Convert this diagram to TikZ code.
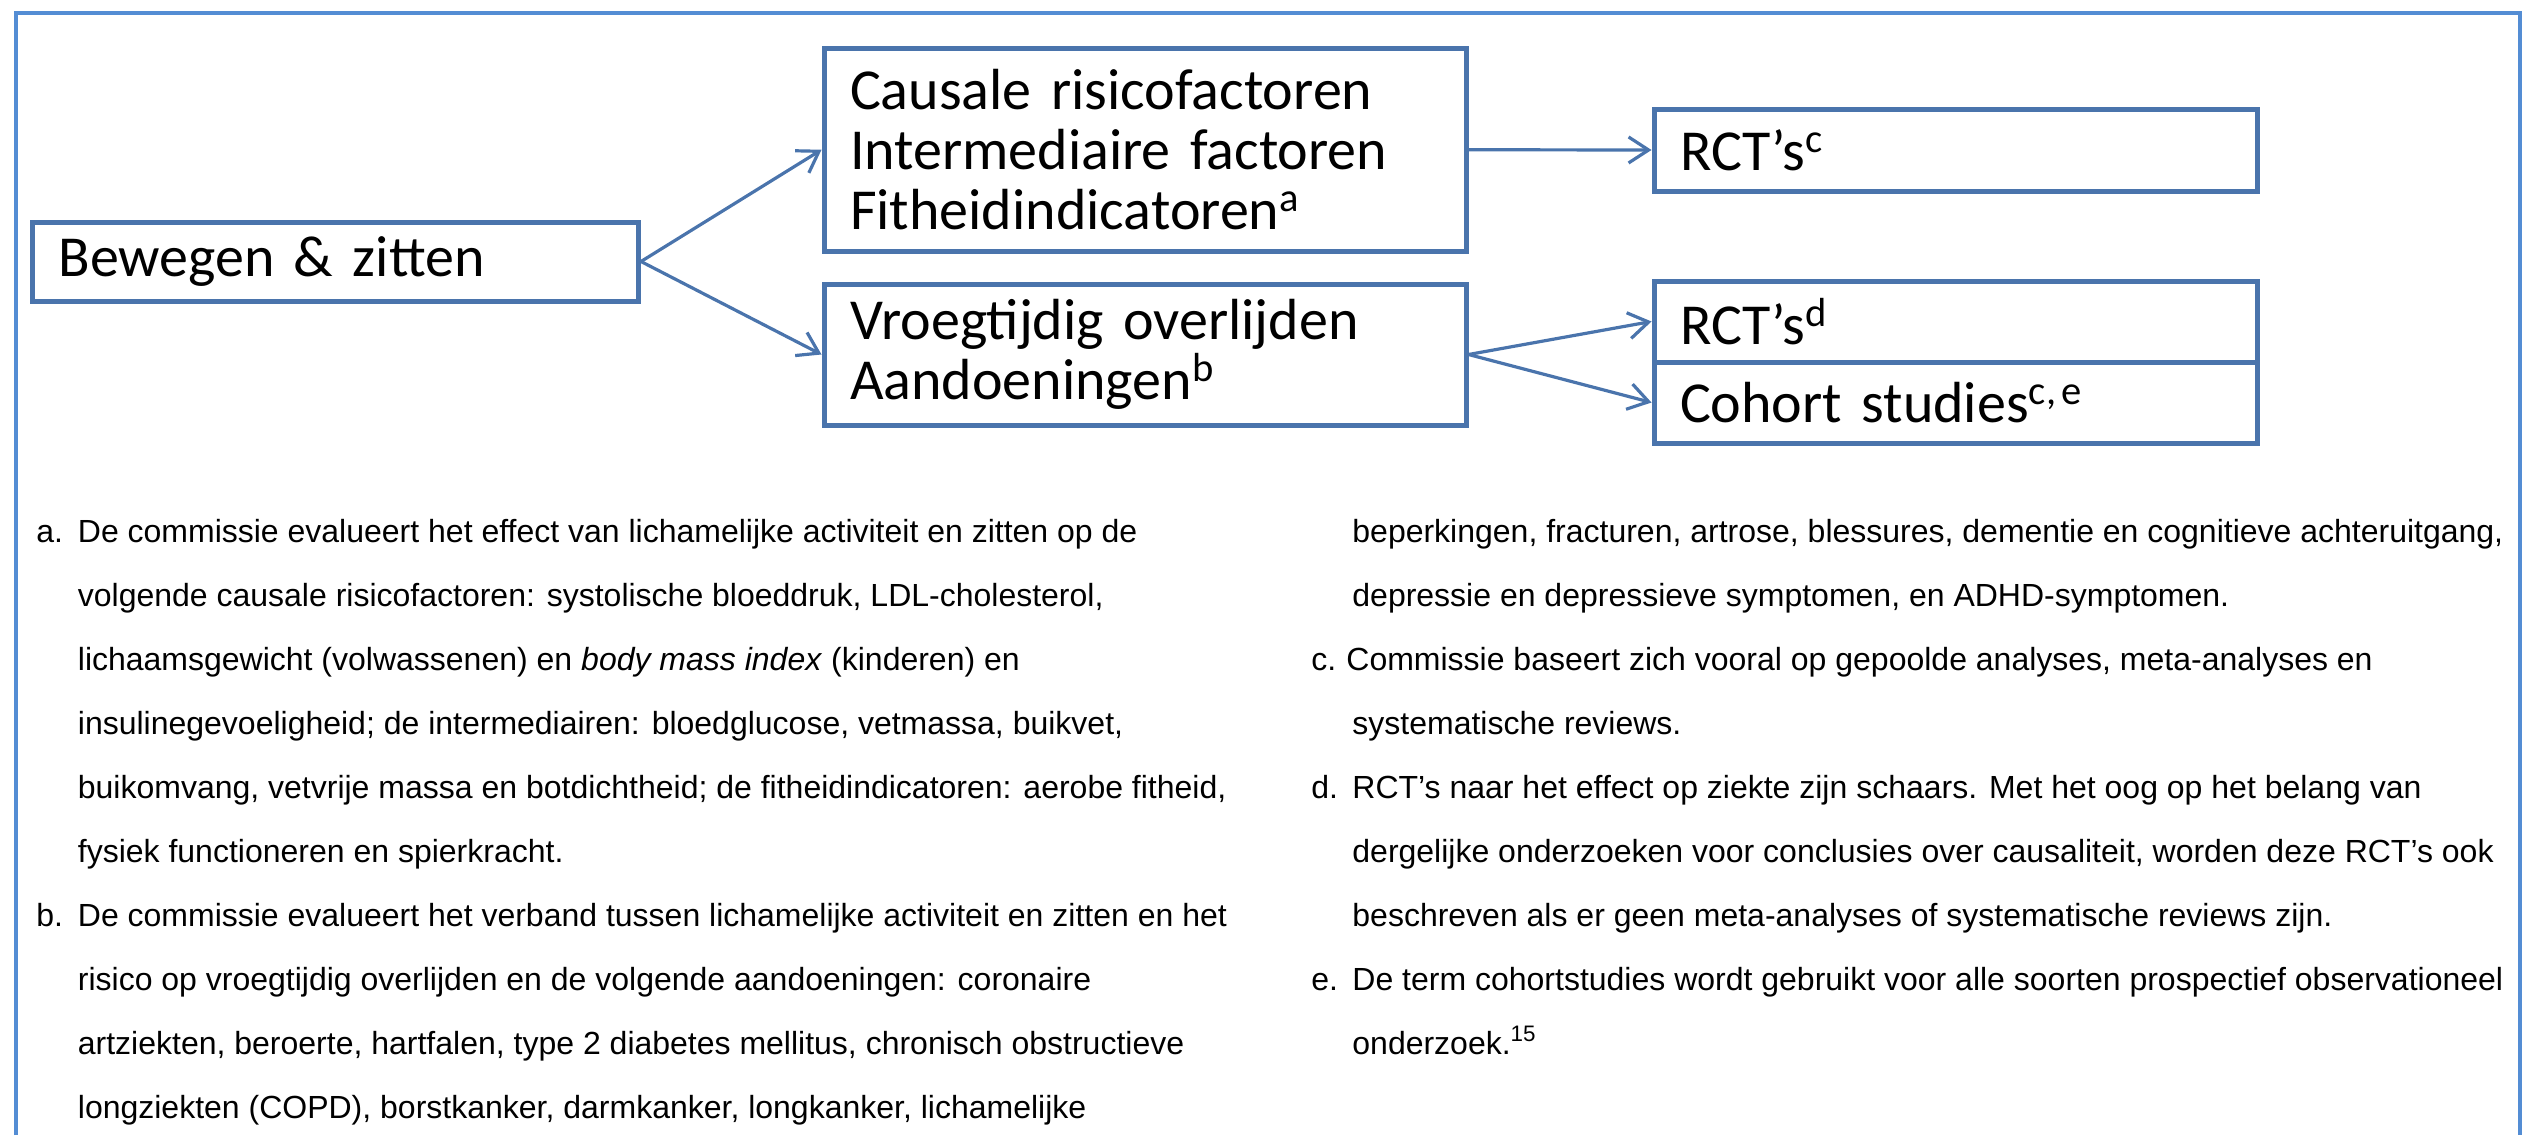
\documentclass[tikz,border=0pt]{standalone}
\usepackage{fontspec}
\setmainfont{Liberation Sans}
\newfontfamily\boxfont{Carlito}
\newfontfamily\fnfont{Liberation Sans}
\usetikzlibrary{arrows.meta}
\definecolor{boxblue}{RGB}{74,116,172}
\definecolor{frameblue}{RGB}{84,141,212}
\begin{document}
\begin{tikzpicture}[x=0.5pt,y=-0.5pt,
  box/.style={draw=boxblue, line width=2.5pt, rectangle, inner xsep=13pt, inner ysep=0pt,
    align=left, font=\boxfont\fontsize{29pt}{30pt}\selectfont, anchor=center},
  conn/.style={draw=boxblue, line width=1.6pt, -{Straight Barb[length=10pt,width=13pt]}},
  fn/.style={anchor=base west, inner sep=0pt, font=\fnfont\fontsize{16pt}{32pt}\selectfont},
]
\useasboundingbox (0,0) rectangle (2526,1135);
\draw[frameblue, line width=1.6pt] (16,1135) -- (16,13) -- (2520,13) -- (2520,1135);

% boxes
\node[box, text width=277pt, minimum height=39.5pt] (bew) at (335.5,261.5) {Bewegen \& zitten};
\node[box, text width=295pt, minimum height=101.25pt] (caus) at (1145,149.75)
  {Causale risicofactoren\\Intermediaire factoren\\Fitheidindicatoren\textsuperscript{a}};
\node[box, text width=295pt, minimum height=70.5pt] (vroeg) at (1145,354.5)
  {Vroegtijdig overlijden\\Aandoeningen\textsuperscript{b}};
\node[box, text width=275.5pt, minimum height=41pt] (rctc) at (1955.5,150) {RCT’s\textsuperscript{c}};
\node[box, text width=275.5pt, minimum height=40.5pt] (rctd) at (1955.5,321.5) {RCT’s\textsuperscript{d}};
\node[box, text width=275.5pt, minimum height=40.5pt] (coh) at (1955.5,402.5) {Cohort studies\textsuperscript{c,\hspace{2.5pt}e}};

% connectors
\draw[conn] (bew.east) -- (caus.west);
\draw[conn] (bew.east) -- (vroeg.west);
\draw[conn] (caus.east) -- (rctc.west);
\draw[conn] (vroeg.east) -- (rctd.west);
\draw[conn] (vroeg.east) -- (coh.west);

% footnotes, left column
\node[fn] (la) at (36,542) {a.};
\node[fn] (la1) at (77.5,542) {De commissie evalueert het effect van lichamelijke activiteit en zitten op de};
\node[fn] (la2) at (77.5,606) {volgende causale risicofactoren: systolische bloeddruk, LDL-cholesterol,};
\node[fn] (la3) at (77.5,670) {lichaamsgewicht (volwassenen) en \textit{body mass index} (kinderen) en};
\node[fn] (la4) at (77.5,734) {insulinegevoeligheid; de intermediairen: bloedglucose, vetmassa, buikvet,};
\node[fn] (la5) at (77.5,798) {buikomvang, vetvrije massa en botdichtheid; de fitheidindicatoren: aerobe fitheid,};
\node[fn] (la6) at (77.5,862) {fysiek functioneren en spierkracht.};
\node[fn] (lb) at (36,926) {b.};
\node[fn] (lb1) at (77.5,926) {De commissie evalueert het verband tussen lichamelijke activiteit en zitten en het};
\node[fn] (lb2) at (77.5,990) {risico op vroegtijdig overlijden en de volgende aandoeningen: coronaire};
\node[fn] (lb3) at (77.5,1054) {artziekten, beroerte, hartfalen, type 2 diabetes mellitus, chronisch obstructieve};
\node[fn] (lb4) at (77.5,1118) {longziekten (COPD), borstkanker, darmkanker, longkanker, lichamelijke};

% footnotes, right column
\node[fn] (rb5) at (1352,542) {beperkingen, fracturen, artrose, blessures, dementie en cognitieve achteruitgang,};
\node[fn] (rb6) at (1352,606) {depressie en depressieve symptomen, en ADHD-symptomen.};
\node[fn] (rc) at (1311,670) {c.};
\node[fn] (rc1) at (1346,670) {Commissie baseert zich vooral op gepoolde analyses, meta-analyses en};
\node[fn] (rc2) at (1352,734) {systematische reviews.};
\node[fn] (rd) at (1311,798) {d.};
\node[fn] (rd1) at (1352,798) {RCT’s naar het effect op ziekte zijn schaars. Met het oog op het belang van};
\node[fn] (rd2) at (1352,862) {dergelijke onderzoeken voor conclusies over causaliteit, worden deze RCT’s ook};
\node[fn] (rd3) at (1352,926) {beschreven als er geen meta-analyses of systematische reviews zijn.};
\node[fn] (re) at (1311,990) {e.};
\node[fn] (re1) at (1352,990) {De term cohortstudies wordt gebruikt voor alle soorten prospectief observationeel};
\node[fn] (re2) at (1352,1054) {onderzoek.\textsuperscript{15}};
\end{tikzpicture}
\end{document}
